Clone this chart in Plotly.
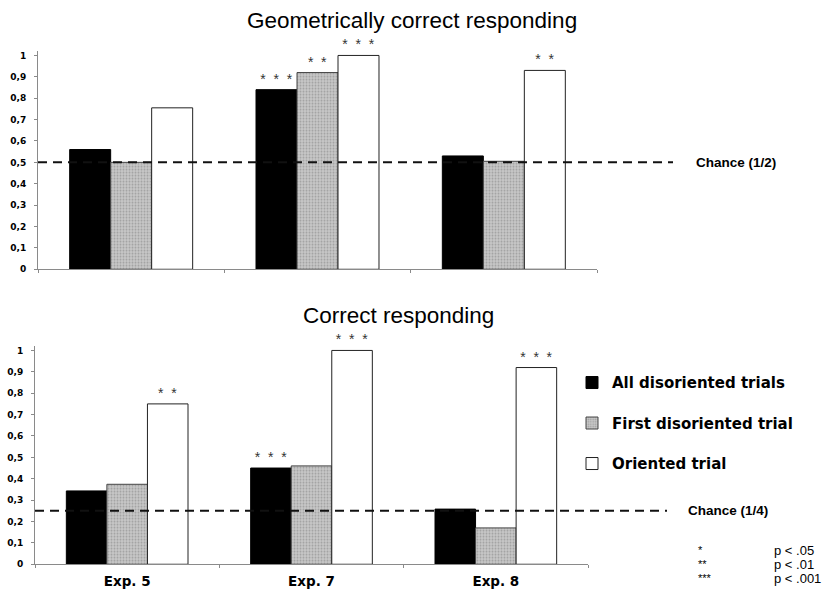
import plotly.graph_objects as go

# ---- data ----
experiments = ["Exp. 5", "Exp. 7", "Exp. 8"]
series_names = ["All disoriented trials", "First disoriented trial", "Oriented trial"]

geo_all = [0.56, 0.84, 0.53]
geo_first = [0.50, 0.92, 0.505]
geo_oriented = [0.755, 1.0, 0.93]
geo_stars_all = ["", "* * *", ""]
geo_stars_first = ["", "* *", ""]
geo_stars_oriented = ["", "* * *", "* *"]

cor_all = [0.343, 0.45, 0.258]
cor_first = [0.374, 0.46, 0.17]
cor_oriented = [0.75, 1.0, 0.92]
cor_stars_all = ["", "* * *", ""]
cor_stars_first = ["", "", ""]
cor_stars_oriented = ["* *", "* * *", "* * *"]

chance_geo = 0.5
chance_cor = 0.25
chance_geo_label = "Chance (1/2)"
chance_cor_label = "Chance (1/4)"

title_top = "Geometrically correct responding"
title_bottom = "Correct responding"

ytick_vals = [0, 0.1, 0.2, 0.3, 0.4, 0.5, 0.6, 0.7, 0.8, 0.9, 1.0]
ytick_text = ["0", "0,1", "0,2", "0,3", "0,4", "0,5", "0,6", "0,7", "0,8", "0,9", "1"]

sig_symbols = ["*", "**", "***"]
sig_labels = ["p < .05", "p < .01", "p < .001"]

# ---- styles ----
W, H = 828, 595
FONT = "Liberation Sans, Arial, sans-serif"
WIDE = "DejaVu Sans, Verdana, sans-serif"

def px_x(p):
    return p / W

def px_y(p):
    return 1 - p / H

def spaced(labels):
    return [s.replace(" ", "\u00a0\u00a0") for s in labels]

styles = [
    dict(color="#000000", line=dict(color="#000000", width=1)),
    dict(color="#bdbdbd", line=dict(color="#444444", width=1),
         pattern=dict(shape=".", fgcolor="#777777", bgcolor="#c8c8c8", size=3, solidity=0.35)),
    dict(color="#ffffff", line=dict(color="#222222", width=1)),
]

fig = go.Figure()

top_sets = [(geo_all, geo_stars_all), (geo_first, geo_stars_first), (geo_oriented, geo_stars_oriented)]
bot_sets = [(cor_all, cor_stars_all), (cor_first, cor_stars_first), (cor_oriented, cor_stars_oriented)]

star_font = dict(size=14, color="#333333", family=FONT)

for i, (vals, stars) in enumerate(top_sets):
    fig.add_trace(go.Bar(
        x=experiments, y=vals, text=spaced(stars), textposition="outside",
        textfont=star_font, cliponaxis=False, constraintext="none",
        marker=styles[i], name=series_names[i], showlegend=False,
        xaxis="x", yaxis="y", hoverinfo="skip",
    ))

for i, (vals, stars) in enumerate(bot_sets):
    fig.add_trace(go.Bar(
        x=experiments, y=vals, text=spaced(stars), textposition="outside",
        textfont=star_font, cliponaxis=False, constraintext="none",
        marker=styles[i], name=series_names[i], showlegend=True,
        legendgroup=f"g{i}",
        xaxis="x2", yaxis="y2", hoverinfo="skip",
    ))

axis_common = dict(showline=True, linecolor="#8a8a8a", linewidth=1,
                   ticks="outside", ticklen=3, tickcolor="#8a8a8a",
                   showgrid=False, zeroline=False)

yaxis_common = dict(axis_common, range=[0, 1.02], tickvals=ytick_vals, ticktext=ytick_text,
                    ticklabelstandoff=6,
                    tickfont=dict(size=9, family=WIDE, color="#000000", weight="bold"))

fig.update_layout(
    width=W, height=H,
    margin=dict(l=0, r=0, t=0, b=0),
    paper_bgcolor="white", plot_bgcolor="white",
    barmode="group", bargap=0.34, bargroupgap=0,
    font=dict(family=FONT, color="#000000"),
    xaxis=dict(axis_common, domain=[px_x(38), px_x(597)], anchor="y",
               tickson="boundaries", showticklabels=False),
    yaxis=dict(yaxis_common, domain=[px_y(271), px_y(55 - 0.02 * 216)], anchor="x"),
    xaxis2=dict(axis_common, domain=[px_x(35), px_x(588)], anchor="y2",
                tickson="boundaries", ticklabelstandoff=5,
                tickfont=dict(size=13.5, family=WIDE, color="#000000", weight="bold")),
    yaxis2=dict(yaxis_common, domain=[px_y(569), px_y(353 - 0.02 * 216)], anchor="x2"),
    legend=dict(x=px_x(572), y=px_y(369), xanchor="left", yanchor="top",
                font=dict(size=15, family=WIDE, color="#000000", weight="bold"),
                tracegroupgap=18, bgcolor="rgba(0,0,0,0)", itemwidth=30),
    showlegend=True,
)

# chance lines
fig.add_shape(type="line", xref="paper", yref="y", x0=px_x(38), x1=px_x(673),
              y0=chance_geo, y1=chance_geo, layer="above",
              line=dict(color="#111111", width=2, dash="9px,6px"))
fig.add_shape(type="line", xref="paper", yref="y2", x0=px_x(35), x1=px_x(667),
              y0=chance_cor, y1=chance_cor, layer="above",
              line=dict(color="#111111", width=2, dash="9px,6px"))

fig.add_annotation(x=px_x(694), y=chance_geo, xref="paper", yref="y", text=chance_geo_label,
                   showarrow=False, xanchor="left", yanchor="middle",
                   font=dict(size=13.5, family=FONT, color="#000000", weight="bold"))
fig.add_annotation(x=px_x(686), y=chance_cor, xref="paper", yref="y2", text=chance_cor_label,
                   showarrow=False, xanchor="left", yanchor="middle",
                   font=dict(size=13.5, family=FONT, color="#000000", weight="bold"))

# titles
fig.add_annotation(x=px_x(412), y=px_y(20), xref="paper", yref="paper", text=title_top,
                   showarrow=False, xanchor="center", yanchor="middle",
                   font=dict(size=22.5, family=FONT, color="#000000"))
fig.add_annotation(x=px_x(398), y=px_y(318), xref="paper", yref="paper", text=title_bottom,
                   showarrow=False, xanchor="center", yanchor="middle",
                   font=dict(size=22.5, family=FONT, color="#000000"))

# significance key
for k, (sym, lab) in enumerate(zip(sig_symbols, sig_labels)):
    yy = 555 + 14 * k
    fig.add_annotation(x=px_x(696), y=px_y(yy), xref="paper", yref="paper", text=sym,
                       showarrow=False, xanchor="left", yanchor="middle",
                       font=dict(size=11, family=FONT, color="#000000"))
    fig.add_annotation(x=px_x(772), y=px_y(yy), xref="paper", yref="paper", text=lab,
                       showarrow=False, xanchor="left", yanchor="middle",
                       font=dict(size=13, family=FONT, color="#000000"))

fig.write_html("out.html")
